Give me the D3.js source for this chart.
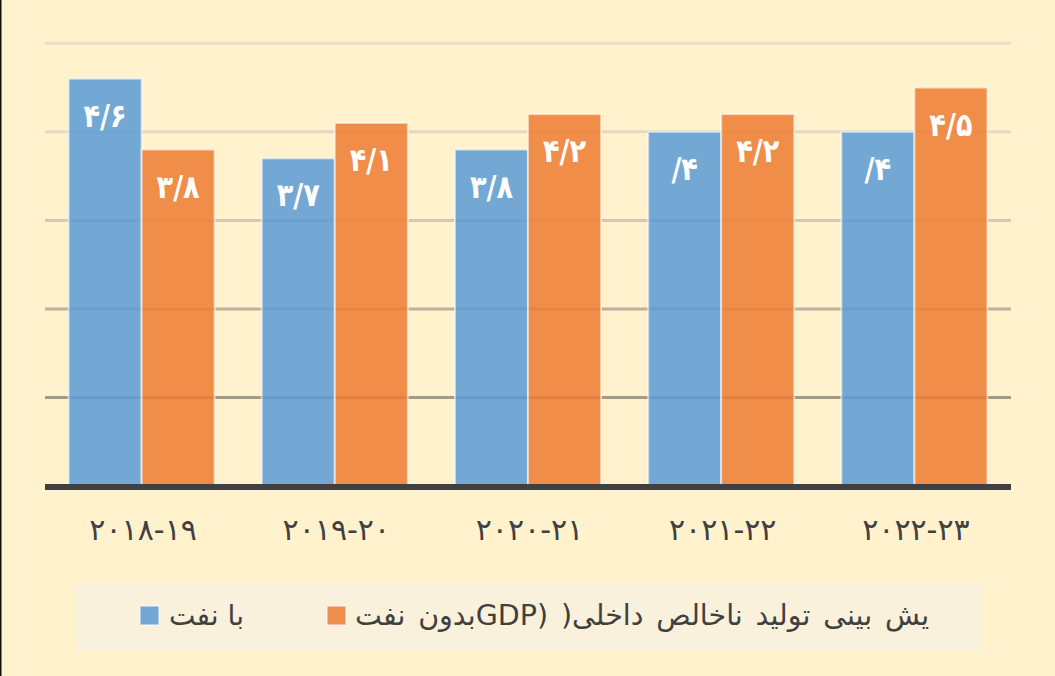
<!DOCTYPE html>
<html><head><meta charset="utf-8">
<script src="https://cdn.jsdelivr.net/npm/d3@7"></script>
<style>
html,body{margin:0;padding:0;background:#FFF2CC;}
svg{display:block;}
</style></head>
<body>
<svg id="chart" width="1055" height="676"></svg>
<script>
// ---- data ----
const categories = ["۲۰۱۸-۱۹", "۲۰۱۹-۲۰", "۲۰۲۰-۲۱", "۲۰۲۱-۲۲", "۲۰۲۲-۲۳"];
const seriesNames = ["با نفت", "یش بینی تولید ناخالص داخلی(  (GDPبدون نفت"];
const withOil = [4.6, 3.7, 3.8, 4.0, 4.0];
const withoutOil = [3.8, 4.1, 4.2, 4.2, 4.5];
const withOilLabels = ["۴/۶", "۳/۷", "۳/۸", "/۴", "/۴"];
const withoutOilLabels = ["۳/۸", "۴/۱", "۴/۲", "۴/۲", "۴/۵"];
const yTicks = [1, 2, 3, 4, 5];

const colors = ["#5B9BD5", "#ED7D31"];
const gridColors = ["#A39A8A", "#BCB29F", "#D3C9B3", "#E2D9C3", "#E8E0C9"];

const svg = d3.select("#chart");
svg.append("rect").attr("width", 1055).attr("height", 676).attr("fill", "#FFF2CC");
svg.append("rect").attr("x", 0).attr("y", 0).attr("width", 1.5).attr("height", 676).attr("fill", "#111");

const plotL = 45, plotR = 1011, plotT = 43.3, plotB = 486;
const y = d3.scaleLinear().domain([0, 5]).range([plotB, plotT]);
const x0 = d3.scaleBand().domain(categories).range([plotL, plotR]).paddingInner(0.244).paddingOuter(0.122);
const x1 = d3.scaleBand().domain([0, 1]).range([0, x0.bandwidth()]);

// gridlines
svg.append("g").selectAll("line").data(yTicks).join("line")
  .attr("x1", plotL).attr("x2", plotR)
  .attr("y1", d => y(d)).attr("y2", d => y(d))
  .attr("stroke", (d, i) => gridColors[i]).attr("stroke-width", 3);

// bars
const rows = categories.map((c, i) => ({
  cat: c,
  vals: [
    { s: 0, v: withOil[i], label: withOilLabels[i] },
    { s: 1, v: withoutOil[i], label: withoutOilLabels[i] }
  ]
}));

const groups = svg.append("g").selectAll("g").data(rows).join("g")
  .attr("transform", d => `translate(${x0(d.cat)},0)`);

groups.selectAll("rect").data(d => d.vals).join("rect")
  .attr("x", d => x1(d.s))
  .attr("width", x1.bandwidth())
  .attr("y", d => y(d.v))
  .attr("height", d => y(0) - y(d.v))
  .attr("fill", d => colors[d.s])
  .attr("fill-opacity", 0.85)
  .attr("stroke", "#FFFFFF").attr("stroke-opacity", 0.55).attr("stroke-width", 2);

groups.selectAll("text").data(d => d.vals).join("text")
  .attr("transform", d => `translate(${x1(d.s) + x1.bandwidth() / 2},${y(d.v) + 48}) scale(0.85,1)`)
  .attr("text-anchor", "middle")
  .attr("font-family", "DejaVu Sans")
  .attr("font-weight", "bold")
  .attr("font-size", 32)
  .attr("fill", "#FFFFFF")
  .text(d => d.label);

// baseline
svg.append("line").attr("x1", plotL).attr("x2", plotR)
  .attr("y1", plotB + 1).attr("y2", plotB + 1)
  .attr("stroke", "#404040").attr("stroke-width", 6);

// x axis
const xAxis = svg.append("g").attr("transform", `translate(0,${plotB})`)
  .call(d3.axisBottom(x0).tickSize(0));
xAxis.select(".domain").remove();
xAxis.selectAll("text")
  .attr("y", 54).attr("dy", 0).attr("dx", 1.5)
  .attr("font-family", "DejaVu Sans")
  .attr("font-size", 30)
  .attr("letter-spacing", 3)
  .attr("fill", "#404040");

// legend
const lg = svg.append("g");
lg.append("rect").attr("x", 76).attr("y", 583).attr("width", 905).attr("height", 68).attr("fill", "#FAF1DC");
const legendItems = [
  { name: seriesNames[0], color: colors[0], sq: 140, tx: 169, w: 75 },
  { name: seriesNames[1], color: colors[1], sq: 327, tx: 355, w: 578 }
];
const legendFont = 28.5;
legendItems.forEach(it => {
  lg.append("rect").attr("x", it.sq).attr("y", 606).attr("width", 19).attr("height", 19)
    .attr("fill", it.color).attr("fill-opacity", 0.85)
    .attr("stroke", "#FFFFFF").attr("stroke-opacity", 0.6).attr("stroke-width", 1.5);
  const t = lg.append("text")
    .attr("x", 0).attr("y", 625)
    .attr("direction", "rtl")
    .attr("unicode-bidi", "embed")
    .style("direction", "rtl")
    .attr("text-anchor", "middle")
    .attr("font-family", "DejaVu Sans")
    .attr("font-size", legendFont)
    .attr("fill", "#404040")
    .text(it.name);
  let bb = t.node().getBBox();
  const spaces = (it.name.match(/ /g) || []).length;
  if (bb.width < it.w && spaces > 0) {
    t.attr("word-spacing", (it.w - bb.width) / spaces);
  } else if (bb.width > it.w) {
    t.attr("font-size", legendFont * it.w / bb.width);
  }
  bb = t.node().getBBox();
  t.attr("x", it.tx - bb.x);
});
</script>
</body></html>
